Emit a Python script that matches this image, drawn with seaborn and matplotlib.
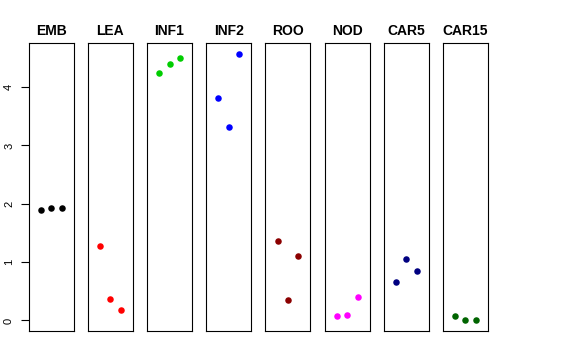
import pandas as pd
import matplotlib.pyplot as plt
import seaborn as sns

# 数据：每个组织三个重复
tissues = ["EMB", "LEA", "INF1", "INF2", "ROO", "NOD", "CAR5", "CAR15"]
colors = ["black", "red", "#00CD00", "blue", "#8B0000", "magenta", "#000080", "#006400"]
replicate = [1, 2, 3]
emb = [1.89, 1.93, 1.93]
lea = [1.28, 0.37, 0.18]
inf1 = [4.24, 4.40, 4.49]
inf2 = [3.81, 3.31, 4.57]
roo = [1.37, 0.35, 1.10]
nod = [0.07, 0.10, 0.40]
car5 = [0.66, 1.06, 0.85]
car15 = [0.07, 0.0, 0.0]
values = [emb, lea, inf1, inf2, roo, nod, car5, car15]

rows = []
for t, v in zip(tissues, values):
    for r, y in zip(replicate, v):
        rows.append({"tissue": t, "rep": r, "value": y})
df = pd.DataFrame(rows)

sns.set_style("white")
plt.rcParams['font.family'] = ['Liberation Sans', 'DejaVu Sans']
plt.rcParams['text.color'] = 'black'
plt.rcParams['ytick.color'] = 'black'

fig, axes = plt.subplots(1, 8, figsize=(5.76, 3.6), dpi=100, sharey=True)
fig.subplots_adjust(left=0.0498, right=0.8472, top=0.8797, bottom=0.0806, wspace=0.316)

for i, (ax, t, c) in enumerate(zip(axes, tissues, colors)):
    sub = df[df["tissue"] == t]
    sns.scatterplot(data=sub, x="rep", y="value", color=c, s=22, linewidth=0, ax=ax)
    ax.set_xlim(-0.16, 4.16)
    ax.set_ylim(-0.18, 4.75)
    ax.set_xticks([])
    ax.set_xlabel("")
    ax.set_ylabel("")
    ax.set_title(t, fontweight="bold", fontsize=10, pad=6, color="black")
    for sp in ax.spines.values():
        sp.set_visible(True)
        sp.set_color("black")
        sp.set_linewidth(0.8)
    if i == 0:
        ax.set_yticks([0, 1, 2, 3, 4])
        ax.tick_params(axis="y", left=True, length=5.5, width=0.8, pad=5,
                       labelsize=8, colors="black")
        for lab in ax.get_yticklabels():
            lab.set_rotation(90)
            lab.set_va("center")
    else:
        ax.tick_params(axis="y", left=False)

plt.savefig("out.png", dpi=100)
plt.close()
